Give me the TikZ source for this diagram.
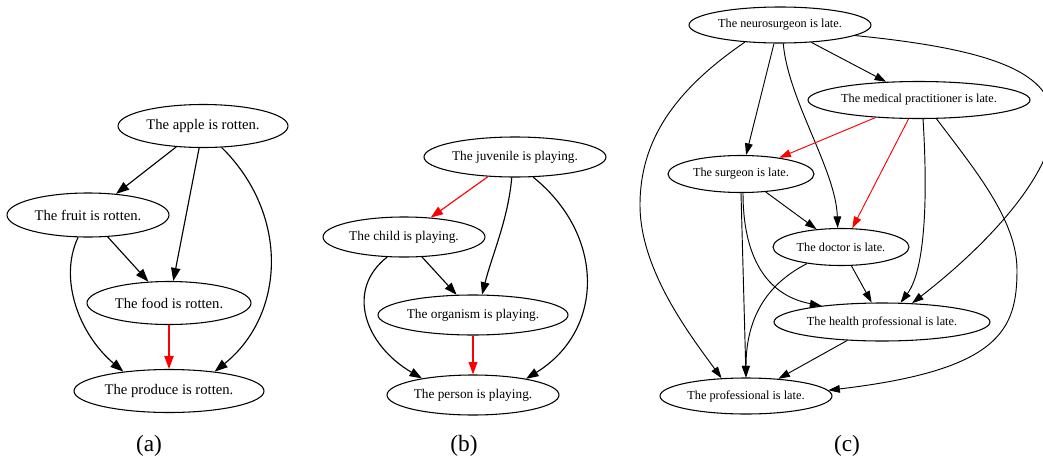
\documentclass[tikz,border=0pt]{standalone}
\usepackage{fontspec}
\setmainfont{Liberation Serif}
\usetikzlibrary{shapes.geometric,arrows.meta}
\begin{document}
\begin{tikzpicture}[x=0.75pt,y=-0.75pt,
  ell/.style={draw, ellipse, inner sep=0pt, line width=0.8pt},
  sz/.style 2 args={minimum width=#1*0.75pt, minimum height=#2*0.75pt},
  fa/.style={font=\fontsize{11}{13}\selectfont},
  fb/.style={font=\fontsize{10}{12}\selectfont},
  fc/.style={font=\fontsize{9.2}{11}\selectfont},
  ea/.style={line width=0.85pt, -{Triangle[length=9.8pt,width=7pt]}},
  eb/.style={line width=0.85pt, -{Triangle[length=9.3pt,width=6.6pt]}},
  ec/.style={line width=0.7pt, -{Triangle[length=8.7pt,width=5.8pt]}},
  hl/.style={color=red},
  panellabel/.style={font=\fontsize{17.5}{20}\selectfont, inner sep=0pt}
]
\useasboundingbox (0,0) rectangle (1043,457);
\clip (0,0) rectangle (1043,457);

% ---------- panel (a)
\node[ell,fa,sz={170}{43}] (apple)   at (203,126) {The apple is rotten.};
\node[ell,fa,sz={162}{44}] (fruit)   at (88,215)  {The fruit is rotten.};
\node[ell,fa,sz={164}{43}] (food)    at (169,303) {The food is rotten.};
\node[ell,fa,sz={190}{43}] (produce) at (169,391) {The produce is rotten.};

\draw[ea] (apple.218) -- (fruit.37);
\draw[ea] (apple.260) -- (food.79);
\draw[ea] (apple.311) .. controls (290,215) and (285,315) .. (produce.23);
\draw[ea] (fruit.312) -- (food.134);
\draw[ea] (fruit.246) .. controls (58,280) and (80,335) .. (produce.157);
\draw[ea,hl] (food.south) -- (produce.north);

\node[panellabel] (la) at (149,446) {(a)};

% ---------- panel (b)
\node[ell,fb,sz={182}{40}] (juv)    at (515,157) {The juvenile is playing.};
\node[ell,fb,sz={162}{40}] (child)  at (404,237) {The child is playing.};
\node[ell,fb,sz={190}{40}] (org)    at (473,315) {The organism is playing.};
\node[ell,fb,sz={172}{40}] (person) at (473,395) {The person is playing.};

\draw[eb,hl] (juv.216) -- (child.36);
\draw[eb] (juv.261) .. controls (508,220) and (492,255) .. (org.66);
\draw[eb] (juv.312) .. controls (605,235) and (605,330) .. (person.17);
\draw[eb] (child.312) -- (org.129);
\draw[eb] (child.230) .. controls (345,290) and (365,345) .. (person.162);
\draw[eb,hl] (org.south) -- (person.north);

\node[panellabel] (lb) at (464,446) {(b)};

% ---------- panel (c)
\node[ell,fc,sz={182}{36}] (neuro)  at (780,25)  {The neurosurgeon is late.};
\node[ell,fc,sz={222}{37}] (med)    at (919,100) {The medical practitioner is late.};
\node[ell,fc,sz={146}{37}] (surg)   at (741,174) {The surgeon is late.};
\node[ell,fc,sz={136}{37}] (doc)    at (841,247) {The doctor is late.};
\node[ell,fc,sz={216}{38}] (health) at (882,322) {The health professional is late.};
\node[ell,fc,sz={172}{36}] (prof)   at (746,396) {The professional is late.};

\coordinate (vl) at (640,205);
\coordinate (vr) at (1052,130);
\coordinate (vm) at (1017,270);

\draw[ec] (neuro.252) -- (surg.75);
\draw[ec] (neuro.280) .. controls (788,100) and (836,170) .. (doc.100);
\draw[ec] (neuro.331) -- (med.151);
\draw[ec] (neuro.206) .. controls (675,90) and (640,140) .. (vl)
                      .. controls (640,270) and (690,335) .. (prof.144);
\draw[ec] (neuro.352) .. controls (1000,50) and (1060,75) .. (vr)
                      .. controls (1050,170) and (1000,235) .. (health.32);
\draw[ec,hl] (med.202) -- (surg.23);
\draw[ec,hl] (med.241) -- (doc.59);
\draw[ec] (med.282) .. controls (928,200) and (925,270) .. (health.46);
\draw[ec] (med.313) .. controls (975,170) and (1017,220) .. (vm)
                    .. controls (1017,330) and (1000,370) .. (prof.4);
\draw[ec] (surg.324) -- (doc.144);
\draw[ec] (surg.276) .. controls (743,255) and (765,295) .. (health.165);
\draw[ec] (surg.south) -- (prof.north);
\draw[ec] (doc.206) .. controls (765,285) and (746,320) .. (prof.north);
\draw[ec] (doc.299) -- (health.118);
\draw[ec] (health.208) -- (prof.28);

\node[panellabel] (lc) at (847,446) {(c)};
\end{tikzpicture}
\end{document}
